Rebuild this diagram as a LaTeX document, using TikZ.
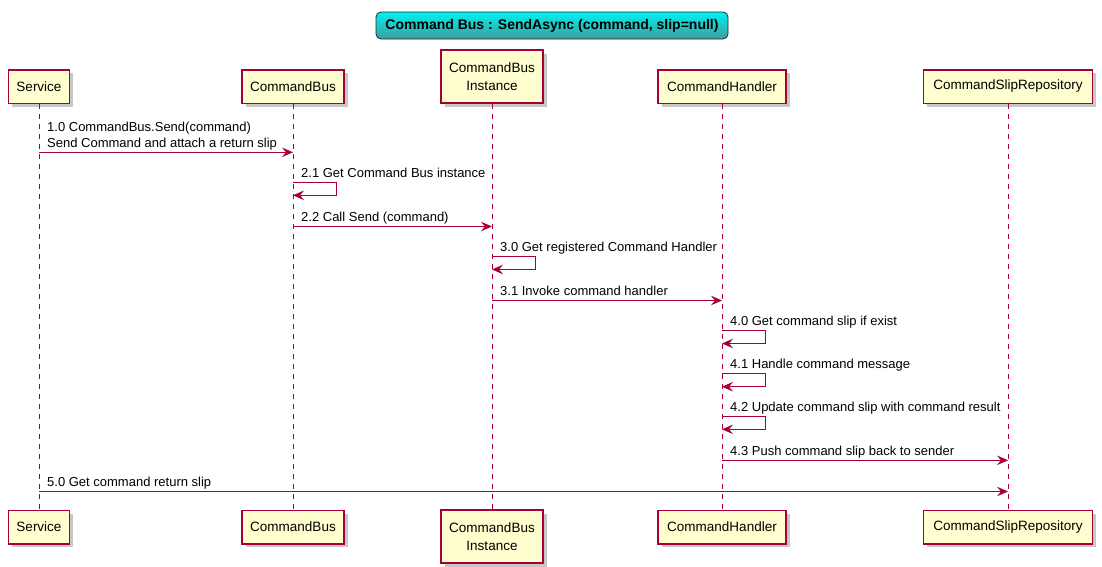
\documentclass[tikz,border=0pt]{standalone}
\usepackage{fontspec}
\setmainfont{Liberation Sans}
\usetikzlibrary{arrows.meta,shadows}
\definecolor{pborder}{HTML}{A80036}
\definecolor{pfill}{HTML}{FEFECE}
\definecolor{ttop}{RGB}{0,240,240}
\definecolor{tbot}{RGB}{62,158,158}
\begin{document}
\begin{tikzpicture}[x=1pt,y=-1pt,
  part/.style={draw=pborder, fill=pfill, line width=1.5pt, minimum height=33.5pt, inner sep=0pt,
    font=\fontsize{13.5}{17.5}\selectfont, align=center,
    drop shadow={shadow xshift=3.5pt,shadow yshift=-3.5pt,fill=black,opacity=0.22}},
  lifeline/.style={draw=pborder, line width=0.8pt, dash pattern=on 5pt off 5pt},
  msg/.style={draw=pborder, line width=1pt, -{Stealth[length=11pt,width=9.5pt,inset=4pt]}},
  lbl/.style={anchor=base west, inner sep=0pt, font=\fontsize{13}{16.3}\selectfont},
  titlebox/.style={draw=black!85, rounded corners=5pt, line width=0.8pt, top color=ttop, bottom color=tbot,
    minimum width=352pt, minimum height=27pt, inner sep=0pt, font=\bfseries\fontsize{14}{16}\selectfont}
]
\fill[white] (0,0) rectangle (1102,566);
\useasboundingbox (0,0) rectangle (1102,566);

% title
\node[titlebox] (title) at (552,25.5) {Command Bus : SendAsync (command, slip=null)};

% participants top
\node[part, minimum width=61pt] (Stop) at (39,86.5) {Service};
\node[part, minimum width=102pt] (Btop) at (293,86.5) {CommandBus};
\node[part, minimum width=102pt, minimum height=53pt] (Itop) at (492,76.5) {CommandBus\\Instance};
\node[part, minimum width=128pt] (Htop) at (722,86.5) {CommandHandler};
\node[part, minimum width=169pt] (Rtop) at (1008,86.5) {CommandSlipRepository};

% participants bottom
\node[part, minimum width=61pt] (Sbot) at (39,527) {Service};
\node[part, minimum width=102pt] (Bbot) at (293,527) {CommandBus};
\node[part, minimum width=102pt, minimum height=53pt] (Ibot) at (492,536.5) {CommandBus\\Instance};
\node[part, minimum width=128pt] (Hbot) at (722,527) {CommandHandler};
\node[part, minimum width=169pt] (Rbot) at (1008,527) {CommandSlipRepository};

% lifelines
\draw[lifeline] (Stop.south) -- (Sbot.north);
\draw[lifeline] (Btop.south) -- (Bbot.north);
\draw[lifeline] (Itop.south) -- (Ibot.north);
\draw[lifeline] (Htop.south) -- (Hbot.north);
\draw[lifeline] (Rtop.south) -- (Rbot.north);

% message anchor coordinates
\coordinate (m1s) at (39,152.3);   \coordinate (m1e) at (293,152.3);
\coordinate (m21s) at (293,182.3); \coordinate (m21e) at (293,195.3);
\coordinate (m22s) at (293,226.5); \coordinate (m22e) at (492,226.5);
\coordinate (m30s) at (492,256.5); \coordinate (m30e) at (492,269.5);
\coordinate (m31s) at (492,300.5); \coordinate (m31e) at (722,300.5);
\coordinate (m40s) at (722,330.7); \coordinate (m40e) at (722,343.5);
\coordinate (m41s) at (722,373.7); \coordinate (m41e) at (722,386.7);
\coordinate (m42s) at (722,416.5); \coordinate (m42e) at (722,429.3);
\coordinate (m43s) at (722,460.3); \coordinate (m43e) at (1008,460.3);
\coordinate (m50s) at (39,491.5);  \coordinate (m50e) at (1008,491.5);

% messages
\draw[msg] (m1s) -- (m1e);
\draw[msg] (m21s) -- ++(43,0) |- (m21e);
\draw[msg] (m22s) -- (m22e);
\draw[msg] (m30s) -- ++(43,0) |- (m30e);
\draw[msg] (m31s) -- (m31e);
\draw[msg] (m40s) -- ++(43,0) |- (m40e);
\draw[msg] (m41s) -- ++(43,0) |- (m41e);
\draw[msg] (m42s) -- ++(43,0) |- (m42e);
\draw[msg] (m43s) -- (m43e);
\draw[msg] (m50s) -- (m50e);

% labels
\node[lbl] (l1a) at (47,131) {1.0 CommandBus.Send(command)};
\node[lbl] (l1b) at (47,147.3) {Send Command and attach a return slip};
\node[lbl] (l21) at (301,177) {2.1 Get Command Bus instance};
\node[lbl] (l22) at (301,221) {2.2 Call Send (command)};
\node[lbl] (l30) at (500,251.2) {3.0 Get registered Command Handler};
\node[lbl] (l31) at (500,295) {3.1 Invoke command handler};
\node[lbl] (l40) at (730,325.3) {4.0 Get command slip if exist};
\node[lbl] (l41) at (730,368.4) {4.1 Handle command message};
\node[lbl] (l42) at (730,411.2) {4.2 Update command slip with command result};
\node[lbl] (l43) at (730,455) {4.3 Push command slip back to sender};
\node[lbl] (l50) at (47,486.2) {5.0 Get command return slip};
\end{tikzpicture}
\end{document}
